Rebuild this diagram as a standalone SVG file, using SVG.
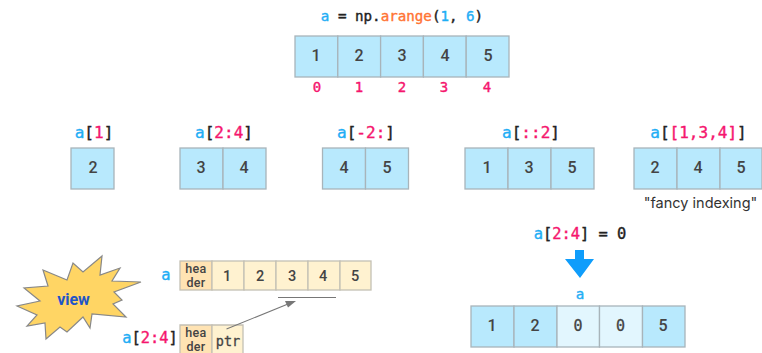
<svg xmlns="http://www.w3.org/2000/svg" width="762" height="353" viewBox="0 0 762 353">
<style>
.c{fill:#b8e9fd;stroke:#a8b4ba;stroke-width:1.3}
.l{fill:#e2f6fe;stroke:#a8b4ba;stroke-width:1.3}
.y{fill:#fff2d0;stroke:#c4c0b4;stroke-width:1.3}
.h{fill:#ffe3b3;stroke:#c4c0b4;stroke-width:1.3}
text{font-family:"DejaVu Sans Mono",monospace;text-anchor:middle}
.n{font-family:"Roboto","DejaVu Sans",sans-serif;font-size:16px;font-weight:500;fill:#444}
.m{font-family:"DejaVu Sans Mono",monospace;font-size:15px;fill:#444;stroke:#444;stroke-width:.3}
.s{font-family:"Roboto",sans-serif;font-size:14.500px;font-weight:500;fill:#444}
.t{font-family:"Roboto",sans-serif;font-size:12.500px;font-weight:500;fill:#444;letter-spacing:.3px}
.code{font-size:16px;fill:#222;stroke:#222;stroke-width:.4}
.code .b{fill:#1faef5;stroke:#1faef5}.code .p{fill:#f5166e;stroke:#f5166e}.code .o{fill:#ff7433;stroke:#ff7433}
.top{font-size:14.200px}
.mid{font-size:15.400px}
.i{font-size:14px;fill:#f5166e;stroke:#f5166e;stroke-width:.4}
</style>
<text class="code top" x="402" y="21" xml:space="preserve"><tspan class="b">a</tspan> = np.<tspan class="o">arange</tspan>(<tspan class="b">1</tspan>, <tspan class="b">6</tspan>)</text>
<g id="array-a">
<rect class="c" x="295" y="36" width="42.800" height="41"/><rect class="c" x="337.800" y="36" width="42.800" height="41"/><rect class="c" x="380.600" y="36" width="42.800" height="41"/><rect class="c" x="423.400" y="36" width="42.800" height="41"/><rect class="c" x="466.200" y="36" width="42.800" height="41"/>
<text class="n" x="316" y="61">1</text><text class="n" x="359" y="61">2</text><text class="n" x="402" y="61">3</text><text class="n" x="445" y="61">4</text><text class="n" x="488" y="61">5</text>
<text class="i" x="317" y="92">0</text><text class="i" x="359" y="92">1</text><text class="i" x="402" y="92">2</text><text class="i" x="444" y="92">3</text><text class="i" x="487" y="92">4</text>
</g>
<g id="slice-1">
<text class="code" x="94" y="138"><tspan class="b">a</tspan>[<tspan class="p">1</tspan>]</text>
<rect class="c" x="71" y="148" width="43" height="41"/><text class="n" x="93" y="173">2</text>
</g>
<g id="slice-2-4">
<text class="code" x="224" y="138"><tspan class="b">a</tspan>[<tspan class="p">2:4</tspan>]</text>
<rect class="c" x="180" y="148" width="43" height="41"/><rect class="c" x="223" y="148" width="43" height="41"/>
<text class="n" x="201" y="173">3</text><text class="n" x="244" y="173">4</text>
</g>
<g id="slice-neg">
<text class="code" x="366" y="138"><tspan class="b">a</tspan>[<tspan class="p">-2:</tspan>]</text>
<rect class="c" x="322.500" y="148" width="43" height="41"/><rect class="c" x="365.500" y="148" width="43" height="41"/>
<text class="n" x="344" y="173">4</text><text class="n" x="387" y="173">5</text>
</g>
<g id="slice-step">
<text class="code" x="531" y="138"><tspan class="b">a</tspan>[<tspan class="p">::2</tspan>]</text>
<rect class="c" x="465" y="148" width="43" height="41"/><rect class="c" x="508" y="148" width="43" height="41"/><rect class="c" x="551" y="148" width="43" height="41"/>
<text class="n" x="487" y="173">1</text><text class="n" x="529" y="173">3</text><text class="n" x="572" y="173">5</text>
</g>
<g id="slice-fancy">
<text class="code" x="698.500" y="138"><tspan class="b">a</tspan>[<tspan class="p">[1,3,4]</tspan>]</text>
<rect class="c" x="634" y="148" width="43" height="41"/><rect class="c" x="677" y="148" width="43" height="41"/><rect class="c" x="720" y="148" width="42" height="41"/>
<text class="n" x="655" y="173">2</text><text class="n" x="698" y="173">4</text><text class="n" x="741" y="173">5</text>
<text x="700.500" y="208" style="font-family:Inter,sans-serif;font-size:14.500px;fill:#333">"fancy indexing"</text>
</g>
<g id="view-star">
<polygon points="102,256 83,272 73,263 67,280 43,270 48,286 24,288 40,301 17,306 37,315 27,326 45,323 46,339 60,327 67,332 83,317 90,328 92,314 126,317 113,304 122,300 114,292 141,282 112,281 120,268 100,275" fill="#ffd564" stroke="#888" stroke-width="1.2"/>
<text x="73.500" y="305" style="font-family:Roboto,sans-serif;font-size:16px;font-weight:700;fill:#1f55c8">view</text>
</g>
<g id="mem-a">
<text class="code mid" x="166" y="280"><tspan class="b">a</tspan></text>
<rect class="h" x="180" y="261" width="32" height="29"/><rect class="y" x="212" y="261" width="32" height="29"/><rect class="y" x="244" y="261" width="32" height="29"/><rect class="y" x="276" y="261" width="32" height="29"/><rect class="y" x="308" y="261" width="32" height="29"/><rect class="y" x="340" y="261" width="31" height="29"/>
<text class="t" x="196" y="273">hea</text><text class="t" x="196" y="287">der</text>
<text class="s" x="227" y="281">1</text><text class="s" x="260" y="281">2</text><text class="s" x="292" y="281">3</text><text class="s" x="323" y="281">4</text><text class="s" x="355" y="281">5</text>
</g>
<g id="mem-view">
<text class="code mid" x="150" y="343"><tspan class="b">a</tspan>[<tspan class="p">2:4</tspan>]</text>
<path class="h" d="M180 353V325H212V353"/><path class="y" d="M212 353V325H243V353"/>
<text class="t" x="196" y="337">hea</text><text class="t" x="196" y="351">der</text>
<text x="228" y="346" style="font-size:13.500px;fill:#444;stroke:#444;stroke-width:.3">ptr</text>
</g>
<g id="connectors">
<line x1="278" y1="297.500" x2="336" y2="297.500" stroke="#777" stroke-width="1.2"/>
<line x1="226.500" y1="329" x2="288" y2="304" stroke="#777" stroke-width="1.1"/>
<polygon points="296,301 285,301 288,307.500" fill="#777"/>
</g>
<g id="assign">
<text class="code mid" x="580" y="239"><tspan class="b">a</tspan>[<tspan class="p">2:4</tspan>] = 0</text>
<polygon points="575,250 584,250 584,259 594,259 580,278 565,259 575,259" fill="#0f9dfb"/>
<text class="code top" x="580" y="299"><tspan class="b">a</tspan></text>
</g>
<g id="array-result">
<rect class="c" x="471" y="306" width="43" height="41"/><rect class="c" x="514" y="306" width="43" height="41"/><rect class="l" x="557" y="306" width="42.500" height="41"/><rect class="l" x="599.500" y="306" width="43" height="41"/><rect class="c" x="642.500" y="306" width="42.500" height="41"/>
<text class="n" x="492" y="331">1</text><text class="n" x="535" y="331">2</text><text class="m" x="578" y="331">0</text><text class="m" x="620.500" y="331">0</text><text class="n" x="663" y="331">5</text>
</g>
</svg>
